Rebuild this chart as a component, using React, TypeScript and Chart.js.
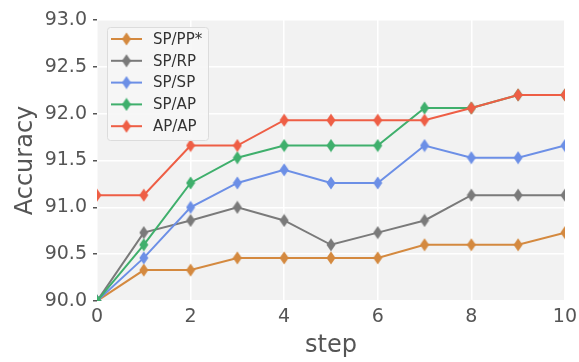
import React, { useEffect, useRef } from "react";
import { Chart, registerables } from "chart.js";

Chart.register(...registerables);

const steps = [0, 1, 2, 3, 4, 5, 6, 7, 8, 9, 10];
const seriesNames = ["SP/PP*", "SP/RP", "SP/SP", "SP/AP", "AP/AP"];
const spPP = [90.0, 90.33, 90.33, 90.46, 90.46, 90.46, 90.46, 90.6, 90.6, 90.6, 90.73];
const spRP = [90.0, 90.73, 90.86, 91.0, 90.86, 90.6, 90.73, 90.86, 91.13, 91.13, 91.13];
const spSP = [90.0, 90.46, 91.0, 91.26, 91.4, 91.26, 91.26, 91.66, 91.53, 91.53, 91.66];
const spAP = [90.0, 90.6, 91.26, 91.53, 91.66, 91.66, 91.66, 92.06, 92.06, 92.2, 92.2];
const apAP = [91.13, 91.13, 91.66, 91.66, 91.93, 91.93, 91.93, 91.93, 92.06, 92.2, 92.2];
const seriesValues = [spPP, spRP, spSP, spAP, apAP];
const colors = ["#D4893F", "#7A7A7A", "#6C8FE6", "#3FAF6C", "#EE5E45"];
const xTickValues = [0, 2, 4, 6, 8, 10];
const yTickValues = [90.0, 90.5, 91.0, 91.5, 92.0, 92.5, 93.0];

const FONT = "'DejaVu Sans', sans-serif";
const TEXT = "#555555";

function diamond(color: string): HTMLCanvasElement {
  const c = document.createElement("canvas");
  const w = 10, h = 14;
  c.width = w;
  c.height = h;
  const g = c.getContext("2d")!;
  g.fillStyle = color;
  g.beginPath();
  g.moveTo(w / 2, 0.5);
  g.lineTo(w - 0.5, h / 2);
  g.lineTo(w / 2, h - 0.5);
  g.lineTo(0.5, h / 2);
  g.closePath();
  g.fill();
  return c;
}

export default function App() {
  const ref = useRef<HTMLCanvasElement>(null);
  useEffect(() => {
    if (!ref.current) return;
    const imgs = colors.map(diamond);
    const bgPlugin = {
      id: "bg",
      beforeDraw(chart: any) {
        const { ctx, chartArea: a } = chart;
        ctx.save();
        ctx.fillStyle = "#F2F2F2";
        ctx.fillRect(a.left, a.top, a.right - a.left, a.bottom - a.top);
        ctx.restore();
      },
    };
    const legendPlugin = {
      id: "insideLegend",
      afterDraw(chart: any) {
        const { ctx } = chart;
        ctx.save();
        const x0 = 107, y0 = 27, w = 101, h = 113;
        ctx.fillStyle = "rgba(246,246,246,0.9)";
        ctx.strokeStyle = "#DCDCDC";
        ctx.lineWidth = 1;
        ctx.beginPath();
        (ctx as any).roundRect(x0 + 0.5, y0 + 0.5, w, h, 3);
        ctx.fill();
        ctx.stroke();
        ctx.font = `15px ${FONT}`;
        ctx.textBaseline = "middle";
        ctx.textAlign = "left";
        seriesNames.forEach((name, i) => {
          const y = 39 + i * 21.8;
          ctx.strokeStyle = colors[i];
          ctx.lineWidth = 2;
          ctx.beginPath();
          ctx.moveTo(111, y);
          ctx.lineTo(142, y);
          ctx.stroke();
          const im = imgs[i];
          ctx.drawImage(im, 126.5 - im.width / 2, y - im.height / 2);
          ctx.fillStyle = "#333333";
          ctx.fillText(name, 153, y + 1);
        });
        ctx.restore();
      },
    };
    const chart = new Chart(ref.current, {
      type: "line",
      data: {
        datasets: seriesNames.map((name, i) => ({
          label: name,
          data: steps.map((s, j) => ({ x: s, y: seriesValues[i][j] })),
          borderColor: colors[i],
          backgroundColor: colors[i],
          borderWidth: 2,
          pointStyle: imgs[i] as any,
          pointRadius: 5,
          order: seriesNames.length - i,
          clip: 0 as any,
          tension: 0,
        })),
      },
      options: {
        animation: false,
        responsive: false,
        devicePixelRatio: 1,
        layout: { padding: { top: 20, right: 13, left: 0, bottom: 0 } },
        plugins: { legend: { display: false }, tooltip: { enabled: false } },
        scales: {
          x: {
            type: "linear",
            min: 0,
            max: 10,
            afterFit(scale: any) {
              scale.height = 61;
            },
            afterBuildTicks(scale: any) {
              scale.ticks = xTickValues.map((v) => ({ value: v }));
            },
            ticks: {
              font: { family: FONT, size: 19 },
              color: TEXT,
              padding: 2,
              callback: (v: any) => String(v),
            },
            grid: {
              color: "#FFFFFF",
              lineWidth: 1.5,
              tickLength: 3,
              tickColor: "rgba(0,0,0,0)",
            },
            border: { display: false },
            title: {
              display: true,
              text: "step",
              font: { family: FONT, size: 24 },
              color: TEXT,
              padding: { top: 0, bottom: 2 },
            },
          },
          y: {
            type: "linear",
            min: 90,
            max: 93,
            afterFit(scale: any) {
              scale.width = 97;
            },
            afterBuildTicks(scale: any) {
              scale.ticks = yTickValues.map((v) => ({ value: v }));
            },
            ticks: {
              font: { family: FONT, size: 19 },
              color: TEXT,
              padding: 6,
              callback: (v: any) => Number(v).toFixed(1),
            },
            grid: {
              color: "#FFFFFF",
              lineWidth: 1.5,
              tickLength: 4,
              tickColor: "#555555",
            },
            border: { display: false },
            title: {
              display: true,
              text: "Accuracy",
              font: { family: FONT, size: 24 },
              color: TEXT,
              padding: { top: 11, bottom: 0 },
            },
          },
        },
      },
      plugins: [bgPlugin, legendPlugin],
    });
    return () => chart.destroy();
  }, []);
  return (
    <div style={{ position: "absolute", left: 0, top: 0, width: 579, height: 362 }}>
      <canvas ref={ref} width={579} height={362} />
    </div>
  );
}
